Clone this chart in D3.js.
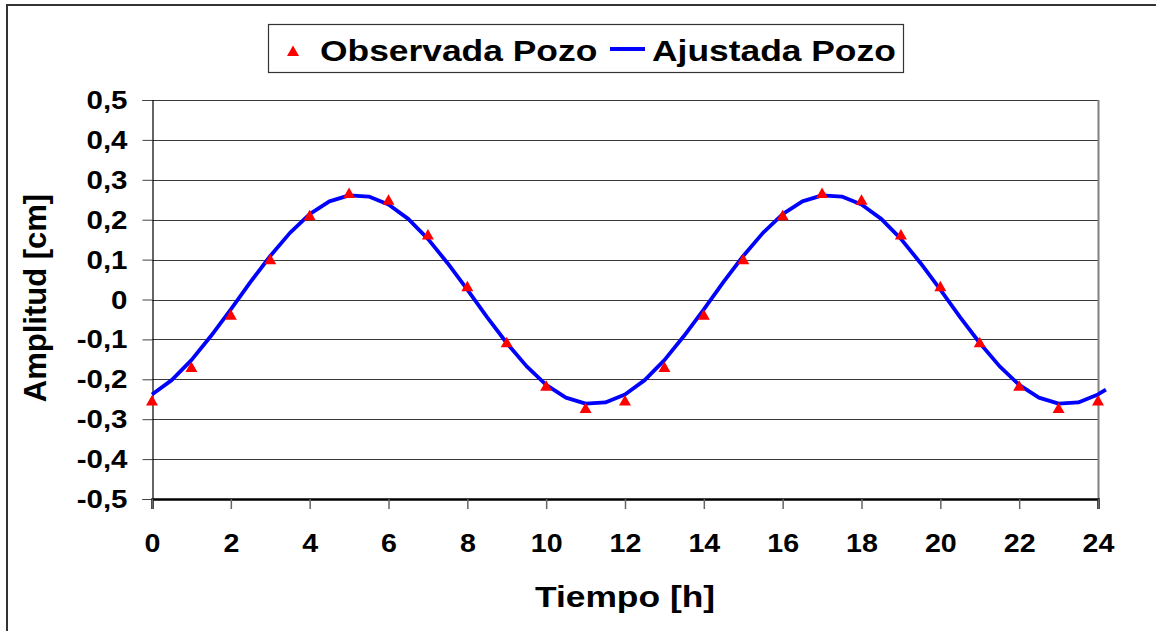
<!DOCTYPE html>
<html>
<head>
<meta charset="utf-8">
<script src="https://cdn.jsdelivr.net/npm/d3@7"></script>
<style>
  body { margin: 0; background: #fff; }
  svg { display: block; font-family: "Liberation Sans", Arial, sans-serif; font-weight: bold; }
</style>
</head>
<body>
<svg id="chart" width="1156" height="631"></svg>
<script>
// observed well amplitudes, one per hour
var obsHours = [0, 1, 2, 3, 4, 5, 6, 7, 8, 9, 10, 11, 12,
	13, 14, 15, 16, 17, 18, 19, 20, 21, 22, 23, 24];
var obsValues = [-0.253, -0.169, -0.038, 0.101, 0.211, 0.267, 0.25, 0.163, 0.033, -0.107, -0.216, -0.272, -0.253,
	-0.169, -0.038, 0.101, 0.211, 0.267, 0.25, 0.163, 0.033, -0.107, -0.216, -0.272, -0.253];

// fitted curve, read every half hour
var fitHours = [0, 0.5, 1, 1.5, 2, 2.5, 3, 3.5, 4, 4.5, 5, 5.5, 6, 6.5, 7, 7.5, 8, 8.5, 9, 9.5, 10, 10.5, 11, 11.5,
	12, 12.5, 13, 13.5, 14, 14.5, 15, 15.5, 16, 16.5, 17, 17.5, 18, 18.5, 19, 19.5, 20, 20.5, 21, 21.5, 22, 22.5, 23, 23.5,
	24, 24.2];
var fitValues = [-0.238, -0.202, -0.152, -0.091, -0.025, 0.044, 0.109, 0.167, 0.214, 0.246, 0.261, 0.258,
	0.238, 0.202, 0.152, 0.091, 0.025, -0.044, -0.109, -0.167, -0.214, -0.246, -0.261, -0.258,
	-0.238, -0.202, -0.152, -0.091, -0.025, 0.044, 0.109, 0.167, 0.214, 0.246, 0.261, 0.258,
	0.238, 0.202, 0.152, 0.091, 0.025, -0.044, -0.109, -0.167, -0.214, -0.246, -0.261, -0.258,
	-0.238, -0.226];

var xTicks = [0, 2, 4, 6, 8, 10, 12, 14, 16, 18, 20, 22, 24];
var yTicks = [-0.5, -0.4, -0.3, -0.2, -0.1, 0, 0.1, 0.2, 0.3, 0.4, 0.5];

var seriesNames = ['Observada Pozo', 'Ajustada Pozo'];

var svg, x, y, stretch, locale, fmt, plot, legend;

svg = d3.select('#chart');
stretch = 1.18; // text in the original is a bit wide

x = d3.scaleLinear().domain([0, 24]).range([152, 1098]);
y = d3.scaleLinear().domain([-0.5, 0.5]).range([499, 100]);

locale = d3.formatLocale({decimal: ',', thousands: '.', grouping: [3], currency: ['', ''], minus: '-'});
fmt = locale.format('.1f');

// outer frame
svg.append('rect')
	.attr('x', 7).attr('y', 5)
	.attr('width', 1170).attr('height', 650)
	.attr('fill', 'none')
	.attr('stroke', '#333')
	.attr('stroke-width', 2);

// grid lines
svg.append('g').selectAll('line')
	.data(yTicks.filter(function(d){ return d > -0.5; }))
	.join('line')
	.attr('x1', x(0)).attr('x2', x(24))
	.attr('y1', function(d){ return Math.round(y(d)) + 0.5; })
	.attr('y2', function(d){ return Math.round(y(d)) + 0.5; })
	.attr('stroke', '#3a3a3a')
	.attr('stroke-width', 1.2);

// right border of plot area
svg.append('line')
	.attr('x1', x(24) + 0.5).attr('x2', x(24) + 0.5)
	.attr('y1', y(0.5)).attr('y2', y(-0.5))
	.attr('stroke', '#808080')
	.attr('stroke-width', 2);

// y axis
var yAxis = svg.append('g')
	.attr('transform', 'translate(' + (x(0) + 0.5) + ',0)')
	.call(d3.axisLeft(y).tickValues(yTicks).tickSize(10).tickPadding(15)
		.tickFormat(function(d){ return d === 0 ? '0' : fmt(d); }));
yAxis.select('.domain').attr('stroke', '#000').attr('stroke-width', 1.2);
yAxis.selectAll('.tick line').attr('stroke', '#444');
yAxis.selectAll('.tick text')
	.attr('x', -25 / stretch)
	.attr('dy', '0.34em')
	.attr('transform', 'scale(' + stretch + ',1)')
	.attr('fill', '#000')
	.style('font-size', '25px')
	.style('font-family', '"Liberation Sans", Arial, sans-serif')
	.style('font-weight', 'bold');

// x axis
var xAxis = svg.append('g')
	.attr('transform', 'translate(0,' + y(-0.5) + ')')
	.call(d3.axisBottom(x).tickValues(xTicks).tickSize(10).tickPadding(25));
xAxis.select('.domain').attr('stroke', '#000').attr('stroke-width', 2.5);
xAxis.selectAll('.tick line').attr('stroke', '#666').attr('stroke-width', 1.5);
xAxis.selectAll('.tick text')
	.attr('fill', '#000')
	.attr('transform', 'scale(1.1,1)')
	.attr('x', function(){ return 0; })
	.style('font-size', '26px')
	.style('font-family', '"Liberation Sans", Arial, sans-serif')
	.style('font-weight', 'bold');

// fitted line
plot = svg.append('g');
plot.append('path')
	.datum(d3.zip(fitHours, fitValues))
	.attr('fill', 'none')
	.attr('stroke', '#0000ff')
	.attr('stroke-width', 3.8)
	.attr('stroke-linejoin', 'round')
	.attr('d', d3.line()
		.x(function(d){ return x(d[0]); })
		.y(function(d){ return y(d[1]); }));

// observed triangles
function triangle(cx, cy) {
	return 'M' + cx + ',' + (cy - 5.5) + 'L' + (cx + 6) + ',' + (cy + 5) + 'L' + (cx - 6) + ',' + (cy + 5) + 'Z';
}
plot.append('g').selectAll('path')
	.data(d3.zip(obsHours, obsValues))
	.join('path')
	.attr('d', function(d){ return triangle(x(d[0]), y(d[1])); })
	.attr('fill', '#ff0000');

// axis titles
svg.append('text')
	.attr('transform', 'translate(625,607) scale(' + stretch + ',1)')
	.attr('text-anchor', 'middle')
	.style('font-size', '30px')
	.text('Tiempo [h]');

svg.append('text')
	.attr('transform', 'translate(46,298) rotate(-90)')
	.attr('text-anchor', 'middle')
	.style('font-size', '31px')
	.text('Amplitud [cm]');

// legend
legend = svg.append('g');
legend.append('rect')
	.attr('x', 268.5).attr('y', 24.5)
	.attr('width', 635).attr('height', 48)
	.attr('fill', '#fff')
	.attr('stroke', '#333')
	.attr('stroke-width', 1.2);
legend.append('path')
	.attr('d', triangle(293, 51))
	.attr('fill', '#ff0000');
legend.append('text')
	.attr('transform', 'translate(320,61) scale(' + stretch + ',1)')
	.style('font-size', '30px')
	.text(seriesNames[0]);
legend.append('line')
	.attr('x1', 610).attr('x2', 645)
	.attr('y1', 49).attr('y2', 49)
	.attr('stroke', '#0000ff')
	.attr('stroke-width', 3.8);
legend.append('text')
	.attr('transform', 'translate(652,61) scale(' + stretch + ',1)')
	.style('font-size', '30px')
	.text(seriesNames[1]);
</script>
</body>
</html>
